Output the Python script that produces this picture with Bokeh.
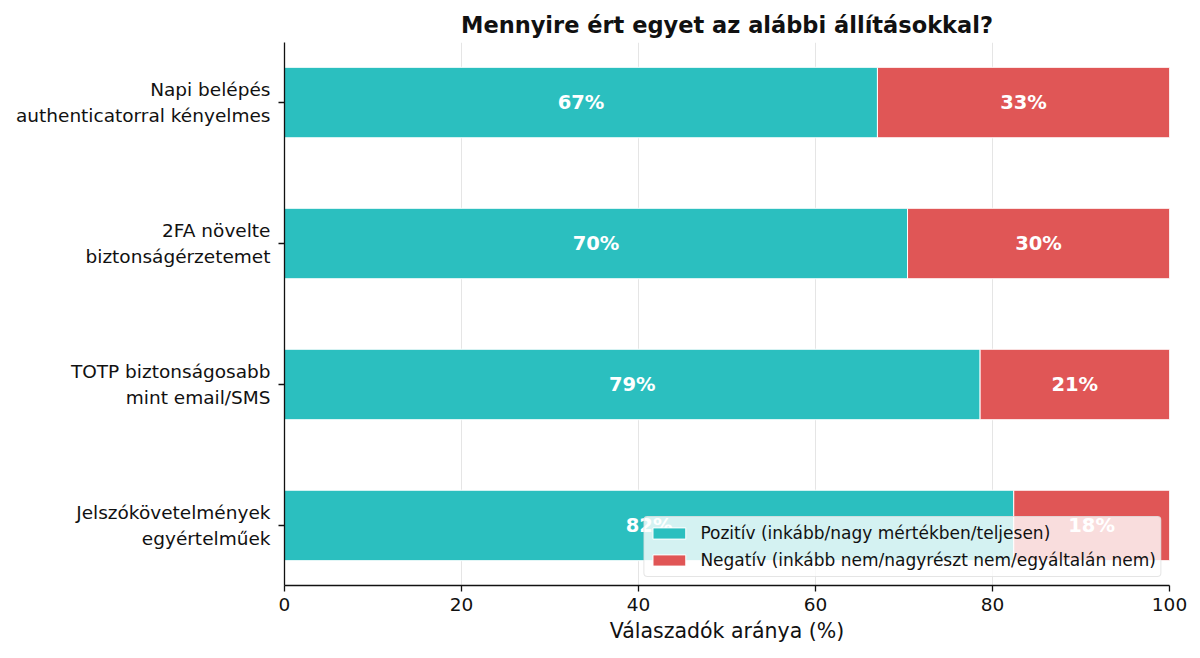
from bokeh.plotting import figure
from bokeh.models import ColumnDataSource, Range1d, FixedTicker, Legend
from bokeh.embed import file_html
from bokeh.resources import INLINE
from bokeh.core.properties import value

categories = [
    "Napi belépés\nauthenticatorral kényelmes",
    "2FA növelte\nbiztonságérzetemet",
    "TOTP biztonságosabb\nmint email/SMS",
    "Jelszókövetelmények\negyértelműek",
]
positive = [67.0, 70.4, 78.6, 82.4]
negative = [33.0, 29.6, 21.4, 17.6]
x_ticks = [0, 20, 40, 60, 80, 100]

TEAL = "#2BBFBF"
RED = "#E05656"
FONT = "DejaVu Sans"

n = len(categories)
ypos = [n - 1 - i for i in range(n)]
pos_right = positive
neg_left = positive
neg_right = [p + q for p, q in zip(positive, negative)]
pos_mid = [p / 2 for p in positive]
neg_mid = [p + q / 2 for p, q in zip(positive, negative)]
pos_lbl = [f"{round(p):d}%" for p in positive]
neg_lbl = [f"{round(q):d}%" for q in negative]

src = ColumnDataSource(dict(
    y=ypos, pl=[0] * n, pr=pos_right, nl=neg_left, nr=neg_right,
    pm=pos_mid, nm=neg_mid, plbl=pos_lbl, nlbl=neg_lbl,
))

p = figure(width=1192, height=650, output_backend="svg", toolbar_location=None,
           x_range=Range1d(0, 100), y_range=Range1d(-0.426, n - 1 + 0.426),
           min_border_left=284, min_border_right=23, min_border_top=42, min_border_bottom=65)

p.title.text = "Mennyire ért egyet az alábbi állításokkal?"
p.title.align = "center"
p.title.text_font = FONT
p.title.text_font_size = "22.5px"
p.title.text_font_style = "bold"
p.title.text_color = "#111111"

r1 = p.hbar(y="y", left="pl", right="pr", height=0.5, source=src,
            fill_color=TEAL, line_color="white", line_width=1)
r2 = p.hbar(y="y", left="nl", right="nr", height=0.5, source=src,
            fill_color=RED, line_color="white", line_width=1)

for xcol, tcol in (("pm", "plbl"), ("nm", "nlbl")):
    p.text(x=xcol, y="y", text=tcol, source=src, text_color="white",
           text_font=value(FONT), text_font_size="19.5px", text_font_style="bold",
           text_align="center", text_baseline="middle")

legend = Legend(items=[
    ("Pozitív (inkább/nagy mértékben/teljesen)", [r1]),
    ("Negatív (inkább nem/nagyrészt nem/egyáltalán nem)", [r2]),
], location="bottom_right")
legend.label_text_font = FONT
legend.label_text_font_size = "17px"
legend.label_text_color = "#111111"
legend.glyph_width = 41
legend.glyph_height = 14
legend.label_height = 24
legend.label_standoff = 11
legend.spacing = 3
legend.padding = 4
legend.margin = 8
legend.background_fill_color = "white"
legend.background_fill_alpha = 0.8
legend.border_line_color = "#cccccc"
legend.border_line_width = 1
if "border_radius" in Legend.properties():
    legend.border_radius = 4
p.add_layout(legend, "center")

p.outline_line_color = None
p.ygrid.grid_line_color = None
p.xgrid.grid_line_color = "#e5e5e5"
p.xgrid.grid_line_width = 1
p.xgrid.ticker = FixedTicker(ticks=x_ticks)

p.xaxis.ticker = FixedTicker(ticks=x_ticks)
p.xaxis.axis_label = "Válaszadók aránya (%)"
p.yaxis.ticker = FixedTicker(ticks=ypos)
p.yaxis.major_label_overrides = {y: c for y, c in zip(ypos, categories)}

for ax in (p.xaxis[0], p.yaxis[0]):
    ax.axis_line_color = "#111111"
    ax.axis_line_width = 1.3
    ax.major_tick_line_color = "#111111"
    ax.major_tick_line_width = 1.3
    ax.major_tick_out = 6
    ax.major_tick_in = 0
    ax.minor_tick_line_color = None
    ax.major_label_text_font = FONT
    ax.major_label_text_color = "#111111"
    ax.axis_label_text_font = FONT
    ax.axis_label_text_font_style = "normal"
    ax.axis_label_text_color = "#111111"

p.xaxis.major_label_text_font_size = "18.5px"
p.yaxis.major_label_text_font_size = "18.5px"
p.xaxis.axis_label_text_font_size = "20.5px"
p.xaxis.major_label_standoff = 6
p.xaxis.axis_label_standoff = 5
p.yaxis.major_label_standoff = 8

open("out.html", "w").write(file_html(p, INLINE))
